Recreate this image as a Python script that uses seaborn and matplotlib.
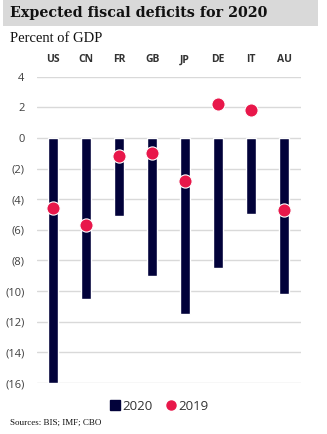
import matplotlib
matplotlib.use("Agg")
import matplotlib.pyplot as plt
import seaborn as sns
import pandas as pd
from matplotlib.patches import Rectangle
from matplotlib.lines import Line2D

countries = ["US", "CN", "FR", "GB", "JP", "DE", "IT", "AU"]
deficit_2020 = [-16.0, -10.5, -5.1, -9.0, -11.5, -8.5, -5.0, -10.2]
deficit_2019 = [-4.6, -5.7, -1.2, -1.0, -2.8, 2.2, 1.8, -4.7]
yticks = [4, 2, 0, -2, -4, -6, -8, -10, -12, -14, -16]
ytick_labels = ["4", "2", "0", "(2)", "(4)", "(6)", "(8)", "(10)", "(12)", "(14)", "(16)"]

navy = "#02023a"
red = "#e8174a"

sns.set_theme(style="white")
plt.rcParams["font.family"] = ["Open Sans", "DejaVu Sans"]

df = pd.DataFrame({"country": countries, "y2020": deficit_2020, "y2019": deficit_2019})

fig = plt.figure(figsize=(3.27, 4.34), dpi=100)
ax = fig.add_axes([0.113, 0.1175, 0.806, 0.706])

sns.barplot(data=df, x="country", y="y2020", color=navy, width=0.3, saturation=1, ax=ax, zorder=2)
sns.scatterplot(data=df, x="country", y="y2019", color=red, s=90, edgecolor="white", linewidth=0.8, ax=ax, zorder=3)

ax.set_ylim(-16, 4)
ax.set_xlim(-0.5, 7.5)
ax.set_yticks(yticks)
ax.set_yticklabels(ytick_labels)
ax.yaxis.grid(True, color="#d9d9d9", linewidth=1)
ax.set_axisbelow(True)
for s in ax.spines.values():
    s.set_visible(False)
ax.set_xlabel("")
ax.set_ylabel("")
ax.xaxis.tick_top()
ax.tick_params(axis="x", length=0, pad=8, labelsize=7.5, labelcolor="#333333")
ax.tick_params(axis="y", length=0, pad=9, labelsize=8, labelcolor="#404040")
for lbl in ax.get_xticklabels():
    lbl.set_fontweight("bold")

# title band
fig.patches.append(Rectangle((3 / 327, 1 - 26 / 434), 315 / 327, 26 / 434,
                             transform=fig.transFigure, facecolor="#d9d9d9", edgecolor="none", zorder=0))
fig.text(10 / 327, 1 - 13 / 434, "Expected fiscal deficits for 2020", fontsize=10.3, fontweight="bold",
         family=["DejaVu Serif"], va="center", ha="left", color="#111111")
fig.text(10 / 327, 1 - 39 / 434, "Percent of GDP", fontsize=10.5, family=["Liberation Serif"],
         va="center", ha="left", color="#111111")
fig.text(10 / 327, 1 - 423 / 434, "Sources: BIS; IMF; CBO", fontsize=6.5, family=["Liberation Serif"],
         va="center", ha="left", color="#111111")

handles = [Line2D([], [], marker="s", linestyle="", color=navy, markersize=6.5),
           Line2D([], [], marker="o", linestyle="", color=red, markersize=6.5)]
fig.legend(handles, ["2020", "2019"], loc="center", bbox_to_anchor=(0.485, 1 - 406 / 434), ncol=2,
           frameon=False, fontsize=9.5, handletextpad=0.05, columnspacing=0.9, handlelength=1.0,
           labelcolor="#333333")

fig.savefig("out.png", dpi=100)
